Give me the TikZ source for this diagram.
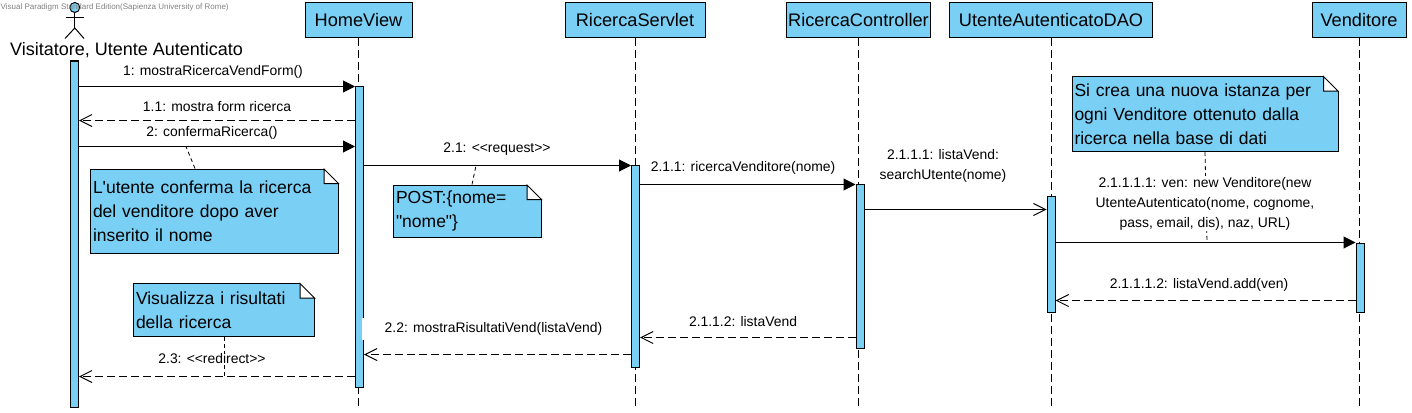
\documentclass[tikz,border=0pt]{standalone}
\usepackage{fontspec}
\setmainfont{Liberation Sans}
\newfontfamily\plainsans{Liberation Sans}
\usetikzlibrary{arrows.meta}
\definecolor{vpblue}{HTML}{7ACFF5}
\newcommand{\notefold}[1]{%
	\fill[white] ([xshift=-15pt,yshift=1pt]#1.north east) rectangle ([xshift=1pt,yshift=-15pt]#1.north east);
	\draw[line width=1pt,line join=miter] ([xshift=-15pt,yshift=-.5pt]#1.north east) -- ([xshift=-15pt,yshift=-15pt]#1.north east) -- ([xshift=-.5pt,yshift=-15pt]#1.north east) -- cycle;
}
\tikzset{
	lifehead/.style={draw,line width=1pt,fill=vpblue,minimum height=34.5pt,inner sep=0pt,font=\fontsize{18.2}{20}\selectfont},
	lifeline/.style={line width=1pt,dash pattern=on 8pt off 4pt},
	bar/.style={draw,line width=1pt,fill=vpblue,inner sep=0pt,minimum width=8pt},
	msg/.style={line width=1pt,-{Triangle[length=12pt,width=12pt]}},
	msgopen/.style={line width=1pt,-{Straight Barb[length=12pt,width=12pt]}},
	msgback/.style={msgopen,dash pattern=on 8pt off 4pt},
	msglabel/.style={fill=white,inner sep=1pt,align=center,font=\plainsans\fontsize{13.9}{20}\selectfont},
	notebox/.style={draw,line width=1pt,fill=vpblue,inner sep=2.5pt,align=left,font=\plainsans\fontsize{17.5}{24}\selectfont},
	noteline/.style={line width=.8pt,dash pattern=on 4pt off 3pt},
}
\begin{document}
\begin{tikzpicture}[x=1pt,y=-1pt]
\useasboundingbox (0,0) rectangle (1412,412);

%%%%%%%%%%%%%%%%%%%%%%%%%%%%%%%%%%%%%%

\node[lifehead,minimum width=107pt] (homeview) at (358.5,19.8) {HomeView};
\node[lifehead,minimum width=140pt] (servlet) at (635,19.8) {RicercaServlet};
\node[lifehead,minimum width=144pt] (controller) at (858.5,19.8) {RicercaController};
\node[lifehead,minimum width=203.5pt] (dao) at (1051,19.8) {UtenteAutenticatoDAO};
\node[lifehead,minimum width=94pt] (venditore) at (1359,19.8) {Venditore};

\draw[lifeline] (homeview) -- (homeview |- 0,407);
\draw[lifeline] (servlet) -- (servlet |- 0,407);
\draw[lifeline] (controller) -- (controller |- 0,407);
\draw[lifeline] (dao) -- (dao |- 0,407);
\draw[lifeline] (venditore) -- (venditore |- 0,407);

%%%%%%%%%%%%%%%%%%%%%%%%%%%%%%%%%%%%%%

\node[bar,minimum height=346pt] (barvisitatore) at (74.5,234) {};
\node[bar,minimum height=301pt] (barhome) at (359.5,236.5) {};
\node[bar,minimum height=202pt] (barservlet) at (635.5,266) {};
\node[bar,minimum height=164pt] (barcontroller) at (860,266) {};
\node[bar,minimum height=116pt] (bardao) at (1051,254) {};
\node[bar,minimum height=69pt] (barvenditore) at (1360,277.5) {};

%%%%%%%%%%%%%%%%%%%%%%%%%%%%%%%%%%%%%%

\node[circle,draw,line width=1pt,fill=vpblue,minimum size=10pt,inner sep=0pt] (actorhead) at (74.8,7.5) {};
\draw[line width=1pt] (actorhead.south) -- +(0,15) coordinate (actorhip);
\draw[line width=1pt] (65.5,18) -- (83.5,18);
\draw[line width=1pt] (65,38.5) -- (actorhip) -- (84,38.5);
\node[font=\fontsize{18}{20}\selectfont] (actorlabel) at (126.5,50) {Visitatore, Utente Autenticato};
\node[text=gray,inner sep=0pt,anchor=west,font=\fontsize{8}{9}\selectfont] (watermark) at (0.5,7.5) {Visual Paradigm Standard Edition(Sapienza University of Rome)};

%%%%%%%%%%%%%%%%%%%%%%%%%%%%%%%%%%%%%%

\draw[msg] (barvisitatore.east |- 0,86.5) -- (barhome.west |- 0,86.5);
\draw[msgback] (barhome.west |- 0,120.5) -- (barvisitatore.east |- 0,120.5);
\draw[msg] (barvisitatore.east |- 0,146.5) -- (barhome.west |- 0,146.5);
\draw[msg] (barhome.east |- 0,165.5) -- (barservlet.west |- 0,165.5);
\draw[msg] (barservlet.east |- 0,184.5) -- (barcontroller.west |- 0,184.5);
\draw[msgopen] (barcontroller.east |- 0,209.5) -- (bardao.west |- 0,209.5);
\draw[msg] (bardao.east |- 0,242.5) -- (barvenditore.west |- 0,242.5);
\draw[msgback] (barvenditore.west |- 0,300.5) -- (bardao.east |- 0,300.5);
\draw[msgback] (barcontroller.west |- 0,337.5) -- (barservlet.east |- 0,337.5);
\draw[msgback] (barservlet.west |- 0,354.5) -- (barhome.east |- 0,354.5);
\draw[msgback] (barhome.west |- 0,376.5) -- (barvisitatore.east |- 0,376.5);

%%%%%%%%%%%%%%%%%%%%%%%%%%%%%%%%%%%%%%

\node[notebox,minimum width=248pt,minimum height=84pt,text width=243pt] (noteconferma) at (214.5,211) {L'utente conferma la ricerca\\del venditore dopo aver\\inserito il nome};
\node[notebox,minimum width=148pt,minimum height=52pt,text width=143pt] (notepost) at (467.5,211) {POST:\{nome=\\"nome"\}};
\node[notebox,minimum width=181pt,minimum height=53pt,text width=176pt] (notevisualizza) at (224,310) {Visualizza i risultati\\della ricerca};
\node[notebox,minimum width=266pt,minimum height=75pt,text width=261pt] (noteistanza) at (1205,114) {Si crea una nuova istanza per\\ogni Venditore ottenuto dalla\\ricerca nella base di dati};

\notefold{noteconferma}
\notefold{notepost}
\notefold{notevisualizza}
\notefold{noteistanza}

\draw[noteline] (noteconferma.north -| 195,0) -- (186,146.5);
\draw[noteline] (notepost.north -| 472,0) -- (476,165.5);
\draw[noteline] (notevisualizza.south) -- (224,376.5);
\draw[noteline] (noteistanza.south) -- (1207,242.5);

%%%%%%%%%%%%%%%%%%%%%%%%%%%%%%%%%%%%%%

\node[msglabel] (lblmostra) at (213,72) {1: mostraRicercaVendForm()};
\node[msglabel] (lblform) at (217,107) {1.1: mostra form ricerca};
\node[msglabel] (lblconferma) at (212,132.5) {2: confermaRicerca()};
\node[msglabel] (lblrequest) at (497,149) {2.1: <<request>>};
\node[msglabel] (lblricerca) at (743,167.5) {2.1.1: ricercaVenditore(nome)};
\node[msglabel] (lblsearch) at (943,165.5) {2.1.1.1: listaVend:\\searchUtente(nome)};
\node[msglabel] (lblnew) at (1205,203.5) {2.1.1.1.1: ven: new Venditore(new\\UtenteAutenticato(nome, cognome,\\pass, email, dis), naz, URL)};
\node[msglabel] (lbladd) at (1199,284.5) {2.1.1.1.2: listaVend.add(ven)};
\node[msglabel] (lbllista) at (743,322) {2.1.1.2: listaVend};
\node[msglabel,minimum width=263pt,minimum height=22pt] (lblrisultati) at (493.5,329) {2.2: mostraRisultatiVend(listaVend)};
\node[msglabel] (lblredirect) at (212,359) {2.3: <<redirect>>};

\end{tikzpicture}
\end{document}
